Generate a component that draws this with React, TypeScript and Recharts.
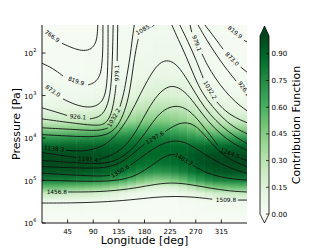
import React from "react"
import { ComposedChart, BarChart, Bar, XAxis, YAxis, Scatter, ReferenceArea, Label } from "recharts"

const FONT = "'DejaVu Sans', sans-serif"
const P_TOP = 1.34
const P_BOT = 6

const lonTicks = [45, 90, 135, 180, 225, 270, 315]
const pTicks = [2, 3, 4, 5, 6]
const cbTicks = [0, 0.15, 0.3, 0.45, 0.6, 0.75, 0.9]
const cbTickLabels = ["0.00", "0.15", "0.30", "0.45", "0.60", "0.75", "0.90"]

// matplotlib "Greens"
const GREENS = ["#f7fcf5", "#e5f5e0", "#c7e9c0", "#a1d99b", "#74c476", "#41ab5d", "#238b45", "#006d2c", "#00441b"]

// contribution function: one vertical profile per 15 deg column
const cfLonEdges = [0, 15, 30, 45, 60, 75, 90, 105, 120, 135, 150, 165, 180, 195, 210, 225, 240, 255, 270, 285, 300, 315, 330, 345, 360]
const cfLevels = [1.34, 2.5, 3.0, 3.3, 3.6, 3.8, 4.0, 4.2, 4.4, 4.6, 4.8, 5.0, 5.15, 5.3, 5.5, 6.0]
const cfCols = [
  [0.01, 0.02, 0.05, 0.11, 0.24, 0.44, 0.70, 0.90, 0.97, 0.98, 0.95, 0.80, 0.55, 0.26, 0.05, 0],
  [0.01, 0.02, 0.05, 0.11, 0.24, 0.44, 0.70, 0.90, 0.97, 0.98, 0.95, 0.80, 0.55, 0.26, 0.05, 0],
  [0.01, 0.02, 0.05, 0.11, 0.24, 0.45, 0.71, 0.91, 0.97, 0.98, 0.95, 0.80, 0.54, 0.25, 0.05, 0],
  [0.01, 0.02, 0.06, 0.12, 0.25, 0.46, 0.72, 0.91, 0.97, 0.98, 0.95, 0.79, 0.53, 0.24, 0.05, 0],
  [0.01, 0.02, 0.06, 0.12, 0.26, 0.47, 0.72, 0.91, 0.97, 0.98, 0.94, 0.78, 0.52, 0.23, 0.05, 0],
  [0.01, 0.03, 0.06, 0.13, 0.27, 0.48, 0.73, 0.91, 0.97, 0.97, 0.93, 0.77, 0.50, 0.22, 0.04, 0],
  [0.01, 0.03, 0.07, 0.14, 0.29, 0.50, 0.74, 0.91, 0.96, 0.96, 0.92, 0.75, 0.48, 0.20, 0.04, 0],
  [0.02, 0.03, 0.08, 0.16, 0.31, 0.52, 0.75, 0.90, 0.95, 0.95, 0.90, 0.72, 0.45, 0.18, 0.04, 0],
  [0.02, 0.04, 0.09, 0.18, 0.34, 0.55, 0.77, 0.90, 0.94, 0.93, 0.87, 0.68, 0.40, 0.15, 0.03, 0],
  [0.02, 0.05, 0.11, 0.21, 0.37, 0.58, 0.78, 0.89, 0.93, 0.91, 0.84, 0.62, 0.34, 0.12, 0.03, 0],
  [0.03, 0.06, 0.13, 0.24, 0.40, 0.60, 0.79, 0.89, 0.91, 0.89, 0.80, 0.56, 0.28, 0.09, 0.02, 0],
  [0.03, 0.07, 0.15, 0.27, 0.43, 0.62, 0.80, 0.88, 0.90, 0.87, 0.76, 0.50, 0.22, 0.07, 0.02, 0],
  [0.03, 0.08, 0.17, 0.29, 0.45, 0.63, 0.80, 0.88, 0.89, 0.85, 0.73, 0.45, 0.18, 0.05, 0.01, 0],
  [0.04, 0.09, 0.18, 0.30, 0.46, 0.64, 0.80, 0.88, 0.89, 0.84, 0.71, 0.42, 0.16, 0.05, 0.01, 0],
  [0.04, 0.09, 0.18, 0.30, 0.46, 0.63, 0.79, 0.88, 0.89, 0.85, 0.72, 0.43, 0.16, 0.05, 0.01, 0],
  [0.04, 0.09, 0.17, 0.29, 0.44, 0.61, 0.77, 0.88, 0.90, 0.87, 0.75, 0.47, 0.18, 0.05, 0.01, 0],
  [0.03, 0.08, 0.16, 0.27, 0.41, 0.58, 0.75, 0.88, 0.91, 0.89, 0.79, 0.53, 0.23, 0.07, 0.02, 0],
  [0.03, 0.07, 0.14, 0.24, 0.37, 0.54, 0.72, 0.88, 0.93, 0.92, 0.84, 0.61, 0.30, 0.10, 0.02, 0],
  [0.02, 0.06, 0.12, 0.21, 0.33, 0.49, 0.69, 0.88, 0.95, 0.95, 0.88, 0.68, 0.38, 0.14, 0.03, 0],
  [0.02, 0.05, 0.10, 0.18, 0.30, 0.46, 0.68, 0.89, 0.96, 0.97, 0.92, 0.74, 0.45, 0.18, 0.04, 0],
  [0.02, 0.04, 0.08, 0.15, 0.27, 0.44, 0.68, 0.89, 0.97, 0.98, 0.94, 0.78, 0.50, 0.22, 0.04, 0],
  [0.01, 0.03, 0.07, 0.13, 0.25, 0.43, 0.68, 0.89, 0.97, 0.98, 0.95, 0.79, 0.52, 0.24, 0.05, 0],
  [0.01, 0.02, 0.06, 0.12, 0.24, 0.43, 0.69, 0.90, 0.97, 0.98, 0.95, 0.80, 0.54, 0.25, 0.05, 0],
  [0.01, 0.02, 0.05, 0.11, 0.24, 0.44, 0.70, 0.90, 0.97, 0.98, 0.95, 0.80, 0.55, 0.26, 0.05, 0],
]

// temperature contours [lon, log10 P], split where the inline labels sit
const c7669 = [[35, 1.77], [53, 1.88], [70, 1.95], [84, 1.93], [93, 1.81], [97, 1.63], [98, 1.34]]
const c8199a = [[0, 2.24], [18, 2.35], [37, 2.54]]
const c8199b = [[81, 2.75], [93, 2.70], [102, 2.54], [105, 2.31], [107, 1.95], [107, 1.34]]
const c8199c = [[355, 1.70], [360, 1.74]]
const c8730a = [[37, 3.08], [58, 3.22], [81, 3.29], [98, 3.24], [109, 3.08], [114, 2.77], [116, 2.19], [116, 1.34]]
const c8730b = [[286, 1.34], [304, 1.65], [318, 1.91]]
const c8730c = [[349, 2.33], [360, 2.45]]
const c9261a = [[0, 3.29], [23, 3.38], [44, 3.47]]
const c9261b = [[84, 3.55], [97, 3.52], [107, 3.43], [114, 3.26], [119, 3.01], [123, 2.54], [125, 1.34]]
const c9261c = [[274, 1.34], [288, 1.67], [304, 2.0], [321, 2.33], [341, 2.66]]
const c9791a = [[0, 3.55], [49, 3.64], [93, 3.71], [107, 3.69], [116, 3.59], [123, 3.38], [128, 3.01], [130, 2.75]]
const c9791b = [[132, 2.19], [133, 1.34]]
const c9791c = [[260, 1.34], [263, 1.51]]
const c9791d = [[281, 2.02], [290, 2.28], [304, 2.59], [321, 2.89], [339, 3.15], [360, 3.36]]
const c10322a = [[0, 3.76], [58, 3.8], [93, 3.83], [109, 3.8], [116, 3.76]]
const c10322b = [[137, 3.26], [144, 2.94], [149, 2.54], [155, 2.07], [158, 1.72], [162, 1.34]]
const c10322c = [[242, 1.34], [256, 1.72], [270, 2.14], [283, 2.59]]
const c10322d = [[307, 3.15], [321, 3.36], [339, 3.52], [360, 3.64]]
const c10853a = [[0, 3.92], [67, 3.97], [102, 3.97], [123, 3.87], [137, 3.64], [148, 3.26], [155, 2.84], [160, 2.33], [165, 1.91], [169, 1.67]]
const c10853b = [[228, 1.34], [239, 1.67], [253, 2.07], [267, 2.54], [281, 2.94], [299, 3.26], [320, 3.57], [341, 3.78], [360, 3.9]]
const c11383 = [[42, 4.29], [76, 4.32], [102, 4.22], [119, 4.08], [137, 3.83], [155, 3.45], [172, 2.98], [190, 2.52], [204, 2.26], [216, 2.17], [228, 2.19], [242, 2.35], [260, 2.73], [277, 3.12], [295, 3.45], [316, 3.73], [339, 3.97], [360, 4.13]]
const c11914a = [[0, 4.34], [23, 4.39], [61, 4.46]]
const c11914b = [[100, 4.5], [119, 4.43], [140, 4.27], [160, 3.97], [177, 3.55], [195, 3.12], [211, 2.87], [225, 2.77], [239, 2.8], [255, 2.96], [272, 3.26], [292, 3.62], [313, 3.9], [335, 4.13], [360, 4.29]]
const c12445a = [[0, 4.53], [49, 4.57], [102, 4.62], [128, 4.55], [151, 4.36], [172, 4.06], [190, 3.71], [207, 3.4], [225, 3.26], [242, 3.24], [260, 3.36], [277, 3.62], [295, 3.92], [309, 4.18]]
const c12445b = [[349, 4.48], [360, 4.53]]
const c12976a = [[0, 4.67], [67, 4.71], [111, 4.71], [137, 4.6], [158, 4.39], [181, 4.13]]
const c12976b = [[216, 3.85], [234, 3.69], [251, 3.62], [269, 3.69], [286, 3.94], [304, 4.22], [321, 4.43], [341, 4.57], [360, 4.67]]
const c13506a = [[0, 4.83], [67, 4.88], [102, 4.9], [119, 4.88]]
const c13506b = [[155, 4.64], [172, 4.48], [193, 4.27], [212, 4.13], [230, 4.06], [248, 4.08], [265, 4.2], [286, 4.39], [307, 4.55], [330, 4.71], [360, 4.83]]
const c14037a = [[0, 4.99], [67, 5.02], [119, 5.02], [155, 4.95], [181, 4.76], [204, 4.53], [221, 4.39], [234, 4.39]]
const c14037b = [[265, 4.64], [286, 4.81], [313, 4.92], [339, 4.97], [360, 4.99]]
const c14568 = [[46, 5.27], [102, 5.27], [155, 5.2], [190, 5.11], [225, 5.04], [260, 5.09], [295, 5.18], [330, 5.25], [360, 5.27]]
const c15098a = [[0, 5.53], [49, 5.53], [102, 5.51], [155, 5.46], [198, 5.39], [234, 5.37], [269, 5.39], [299, 5.44]]
const c15098b = [[344, 5.46], [360, 5.46]]

const contourSegments = [
  c7669, c8199a, c8199b, c8199c, c8730a, c8730b, c8730c, c9261a, c9261b, c9261c,
  c9791a, c9791b, c9791c, c9791d, c10322a, c10322b, c10322c, c10322d, c10853a, c10853b,
  c11383, c11914a, c11914b, c12445a, c12445b, c12976a, c12976b, c13506a, c13506b,
  c14037a, c14037b, c14568, c15098a, c15098b,
]

const contourLabels = [
  { t: "766.9", x: 18, y: 1.6 },
  { t: "819.9", x: 60, y: 2.66 },
  { t: "819.9", x: 339, y: 1.51 },
  { t: "873.0", x: 19, y: 2.89 },
  { t: "873.0", x: 334, y: 2.14 },
  { t: "926.1", x: 63, y: 3.5 },
  { t: "926.1", x: 355, y: 2.84 },
  { t: "979.1", x: 132, y: 2.47 },
  { t: "979.1", x: 272, y: 1.77 },
  { t: "1032.2", x: 126, y: 3.52 },
  { t: "1032.2", x: 295, y: 2.87 },
  { t: "1085.3", x: 181, y: 1.42 },
  { t: "1138.3", x: 21, y: 4.25 },
  { t: "1191.4", x: 81, y: 4.5 },
  { t: "1244.5", x: 330, y: 4.36 },
  { t: "1297.6", x: 198, y: 3.99 },
  { t: "1350.6", x: 137, y: 4.78 },
  { t: "1403.7", x: 249, y: 4.5 },
  { t: "1456.8", x: 26, y: 5.27 },
  { t: "1509.8", x: 323, y: 5.46 },
]
const labelAngles = [35, 20, 40, 35, 45, 5, 55, -90, 70, -60, 60, -30, 5, 5, 20, -30, -30, 30, 0, 0]

function hexRgb(h: string) {
  return [1, 3, 5].map((i) => parseInt(h.slice(i, i + 2), 16))
}

function greens(v: number) {
  const t = Math.max(0, Math.min(1, v)) * (GREENS.length - 1)
  const i = Math.min(GREENS.length - 2, Math.floor(t))
  const f = t - i
  const a = hexRgb(GREENS[i])
  const b = hexRgb(GREENS[i + 1])
  const c = a.map((va, k) => Math.round(va + (b[k] - va) * f))
  return `rgb(${c[0]},${c[1]},${c[2]})`
}

const labelData = contourLabels.map((l, i) => ({ ...l, a: labelAngles[i] }))

const Empty = () => <g />

function ContourLabel(props: any) {
  const { cx, cy, payload } = props
  return (
    <text x={cx} y={cy} dy="0.36em" textAnchor="middle" fontSize={5.8} fontFamily={FONT} fill="#000"
      transform={`rotate(${payload.a} ${cx} ${cy})`}>
      {payload.t}
    </text>
  )
}

function BottomTick({ x, y, payload }: any) {
  return (
    <g>
      <line x1={x} y1={y} x2={x} y2={y - 3.5} stroke="#000" strokeWidth={0.8} />
      <text x={x} y={y + 10.5} textAnchor="middle" fontSize={7} fontFamily={FONT} fill="#000">{payload.value}</text>
    </g>
  )
}

function TopTick({ x, y }: any) {
  return <line x1={x} y1={y} x2={x} y2={y + 3.5} stroke="#000" strokeWidth={0.8} />
}

function LeftTick({ x, y, payload }: any) {
  return (
    <g>
      <line x1={x} y1={y} x2={x + 3.5} y2={y} stroke="#000" strokeWidth={0.8} />
      <text x={x - 9} y={y + 3.2} textAnchor="end" fontSize={7} fontFamily={FONT} fill="#000">10</text>
      <text x={x - 8.8} y={y - 0.6} textAnchor="start" fontSize={5} fontFamily={FONT} fill="#000">{payload.value}</text>
    </g>
  )
}

function RightTick({ x, y }: any) {
  return <line x1={x} y1={y} x2={x - 3.5} y2={y} stroke="#000" strokeWidth={0.8} />
}

function CbTick({ x, y, payload }: any) {
  return (
    <g>
      <line x1={x} y1={y} x2={x - 3} y2={y} stroke="#000" strokeWidth={0.7} />
      <text x={x + 2.5} y={y + 2.5} textAnchor="start" fontSize={7} fontFamily={FONT} fill="#000">
        {cbTickLabels[cbTicks.indexOf(payload.value)] ?? payload.value}
      </text>
    </g>
  )
}

function ColorbarShape({ x, y, width, height }: any) {
  const top = y
  const bot = y + height
  const mid = x + width / 2
  const outline = `M${x},${top} L${mid},${top - 10} L${x + width},${top} L${x + width},${bot} L${mid},${bot + 9} L${x},${bot} Z`
  return (
    <g>
      <rect x={x} y={top} width={width} height={height} fill="url(#cbGrad)" />
      <polygon points={`${x},${top} ${x + width},${top} ${mid},${top - 10}`} fill={GREENS[8]} />
      <polygon points={`${x},${bot} ${x + width},${bot} ${mid},${bot + 9}`} fill={GREENS[0]} />
      <path d={outline} fill="none" stroke="#000" strokeWidth={0.8} />
    </g>
  )
}

const axisLine = { stroke: "#000", strokeWidth: 0.9 }

export default function App() {
  return (
    <div style={{ position: "absolute", left: 0, top: 0, width: 332, height: 249, overflow: "hidden", background: "#fff" }}>
      <div style={{ position: "absolute", left: 0, top: 0 }}>
        <ComposedChart width={260} height={249} margin={{ top: 25, right: 13, bottom: 0, left: 0 }}>
          <defs>
            {cfCols.map((col, i) => (
              <linearGradient key={i} id={`cf${i}`} x1="0" y1="0" x2="0" y2="1">
                {col.map((v, j) => (
                  <stop key={j} offset={(cfLevels[j] - P_TOP) / (P_BOT - P_TOP)} stopColor={greens(v)} />
                ))}
              </linearGradient>
            ))}
          </defs>
          {cfCols.map((_, i) => (
            <ReferenceArea key={`a${i}`} xAxisId="b" yAxisId="l"
              x1={cfLonEdges[i]} x2={i < cfCols.length - 1 ? cfLonEdges[i + 1] + 1 : cfLonEdges[i + 1]}
              y1={P_TOP} y2={P_BOT} fill={`url(#cf${i})`} fillOpacity={1} stroke="none" ifOverflow="visible" />
          ))}
          {contourSegments.map((seg, i) => (
            <Scatter key={`s${i}`} xAxisId="b" yAxisId="l" data={seg.map(([x, y]) => ({ x, y }))}
              fill="#000" line={{ stroke: "#111", strokeWidth: 0.9 }} lineJointType="basis"
              shape={Empty} isAnimationActive={false} />
          ))}
          <Scatter xAxisId="b" yAxisId="l" data={labelData} shape={ContourLabel} isAnimationActive={false} />
          <XAxis xAxisId="b" type="number" dataKey="x" domain={[0, 360]} ticks={lonTicks} interval={0}
            allowDataOverflow height={26} tickSize={0} tickMargin={0} tick={BottomTick} axisLine={axisLine}>
            <Label content={({ viewBox }: any) => (
              <text x={viewBox.x + viewBox.width / 2} y={viewBox.y + 21} textAnchor="middle" fontSize={11} fontFamily={FONT} fill="#000">
                Longitude [deg]
              </text>
            )} />
          </XAxis>
          <XAxis xAxisId="t" orientation="top" type="number" domain={[0, 360]} ticks={lonTicks} interval={0}
            allowDataOverflow height={0} tickSize={0} tickMargin={0} tick={TopTick} axisLine={axisLine} />
          <YAxis yAxisId="l" type="number" dataKey="y" domain={[P_TOP, P_BOT]} reversed ticks={pTicks} interval={0}
            allowDataOverflow width={42} tickSize={0} tickMargin={0} tick={LeftTick} axisLine={axisLine}>
            <Label content={({ viewBox }: any) => {
              const cx = viewBox.x + 20
              const cy = viewBox.y + viewBox.height / 2
              return (
                <text x={cx} y={cy} textAnchor="middle" fontSize={11} fontFamily={FONT} fill="#000" transform={`rotate(-90 ${cx} ${cy})`}>
                  Pressure [Pa]
                </text>
              )
            }} />
          </YAxis>
          <YAxis yAxisId="r" orientation="right" type="number" domain={[P_TOP, P_BOT]} reversed ticks={pTicks} interval={0}
            allowDataOverflow width={0} tickSize={0} tickMargin={0} tick={RightTick} axisLine={axisLine} />
        </ComposedChart>
      </div>
      <div style={{ position: "absolute", left: 250, top: 0 }}>
        <BarChart width={82} height={249} data={[{ n: "cb", v: 1 }]} margin={{ top: 36, right: 0, bottom: 35, left: 10 }} barCategoryGap={0}>
          <defs>
            <linearGradient id="cbGrad" x1="0" y1="1" x2="0" y2="0">
              {GREENS.map((c, i) => (
                <stop key={i} offset={i / (GREENS.length - 1)} stopColor={c} />
              ))}
            </linearGradient>
          </defs>
          <XAxis dataKey="n" hide />
          <YAxis orientation="right" type="number" domain={[0, 1]} ticks={cbTicks} interval={0} width={63}
            tickSize={0} tickMargin={0} tick={CbTick} axisLine={false}>
            <Label content={({ viewBox }: any) => {
              const cx = viewBox.x + 31
              const cy = viewBox.y + viewBox.height / 2
              return (
                <text x={cx} y={cy} textAnchor="middle" fontSize={11} fontFamily={FONT} fill="#000" transform={`rotate(-90 ${cx} ${cy})`}>
                  Contribution Function
                </text>
              )
            }} />
          </YAxis>
          <Bar dataKey="v" shape={ColorbarShape} isAnimationActive={false} />
        </BarChart>
      </div>
    </div>
  )
}
